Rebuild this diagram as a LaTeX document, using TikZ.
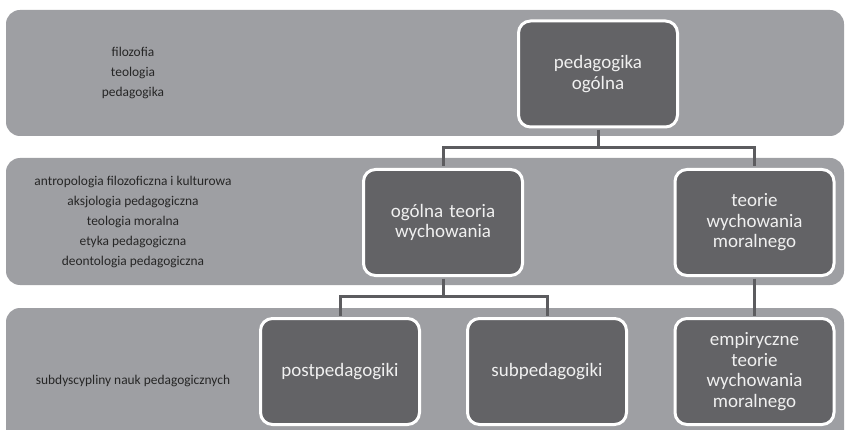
\documentclass[tikz,border=0pt]{standalone}
\usepackage{fontspec}
\setmainfont{Carlito}
\usetikzlibrary{calc}
\definecolor{bandgray}{HTML}{9E9FA3}
\definecolor{boxgray}{HTML}{636366}
\definecolor{linegray}{HTML}{5C5C5F}
\definecolor{labelgray}{HTML}{262626}
\definecolor{boxtext}{HTML}{F0F0F0}
\tikzset{
  band/.style={fill=bandgray, draw=none, rounded corners=14pt},
  topic/.style={rectangle, fill=boxgray, draw=white, line width=3pt,
    rounded corners=12pt, minimum width=159pt, minimum height=106pt,
    text width=150pt, align=center, text=boxtext, inner sep=0pt,
    font=\fontsize{19}{20.5}\selectfont},
  sidelabel/.style={align=center, text=labelgray, inner sep=0pt,
    font=\fontsize{13.4}{20}\selectfont},
  conn/.style={draw=linegray, line width=3pt, shorten <=1.5pt, shorten >=1.5pt}
}
\begin{document}
\begin{tikzpicture}[x=1pt,y=-1pt]
  \useasboundingbox (0,0) rectangle (845,430);
  \clip (0,0) rectangle (845,430);
  % horizontal bands
  \fill[band] (6,10) rectangle (844,136);
  \fill[band] (6,158) rectangle (844,285);
  \fill[band] (6,308) rectangle (844,450);
  % band labels
  \node[sidelabel] (l1) at (133,73) {filozofia\\teologia\\pedagogika};
  \node[sidelabel] (l2) at (133,222) {antropologia filozoficzna i kulturowa\\aksjologia pedagogiczna\\teologia moralna\\etyka pedagogiczna\\deontologia pedagogiczna};
  \node[sidelabel] (l3) at (133,381) {subdyscypliny nauk pedagogicznych};
  % discipline boxes
  \node[topic] (pg)  at (598,74)    {pedagogika\\ogólna};
  \node[topic] (otw) at (443,222.5) {ogólna teoria\\wychowania};
  \node[topic] (twm) at (754.5,222.5) {teorie\\wychowania\\moralnego};
  \node[topic] (post) at (340,371.5) {postpedagogiki};
  \node[topic] (sub)  at (547,371.5) {subpedagogiki};
  \node[topic] (emp)  at (754.5,371.5) {empiryczne\\teorie\\wychowania\\moralnego};
  % connectors
  \coordinate (j1) at ($(pg.south)+(0,19.5)$);
  \coordinate (j2) at ($(otw.south)+(0,19.5)$);
  \draw[conn] (pg.south) -- (j1) -| (otw.north);
  \draw[conn] (j1) -| (twm.north);
  \draw[conn] (otw.south) -- (j2) -| (post.north);
  \draw[conn] (j2) -| (sub.north);
  \draw[conn] (twm.south) -- (emp.north);
\end{tikzpicture}
\end{document}
